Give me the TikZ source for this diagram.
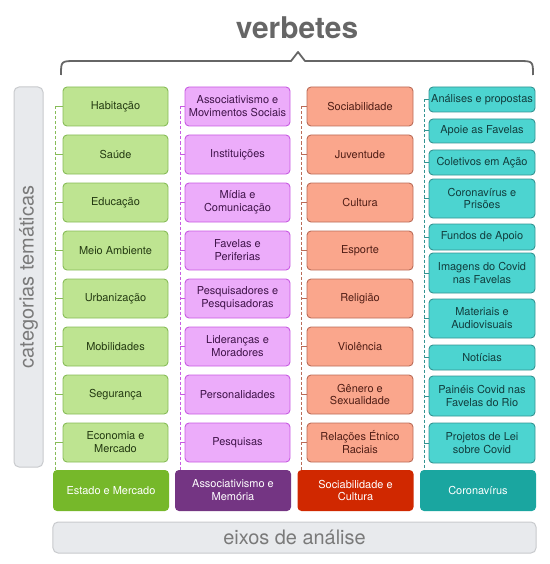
\documentclass[tikz,border=0pt]{standalone}
\usepackage{fontspec}
\setmainfont{TeX Gyre Heros}
\definecolor{verdeFundo}{RGB}{190,228,145}
\definecolor{verdeBorda}{RGB}{135,188,88}
\definecolor{verdeTexto}{RGB}{36,58,18}
\definecolor{verdeEixo}{RGB}{118,184,42}
\definecolor{roxoFundo}{RGB}{236,172,250}
\definecolor{roxoBorda}{RGB}{200,92,226}
\definecolor{roxoTexto}{RGB}{64,20,74}
\definecolor{roxoEixo}{RGB}{116,53,131}
\definecolor{salmaoFundo}{RGB}{250,166,140}
\definecolor{salmaoBorda}{RGB}{186,108,88}
\definecolor{salmaoTexto}{RGB}{80,30,22}
\definecolor{salmaoEixo}{RGB}{208,40,0}
\definecolor{tealFundo}{RGB}{76,212,208}
\definecolor{tealBorda}{RGB}{52,148,146}
\definecolor{tealTexto}{RGB}{18,62,62}
\definecolor{tealEixo}{RGB}{26,166,160}
\definecolor{cinzaFundo}{RGB}{232,234,237}
\definecolor{cinzaBorda}{RGB}{200,202,205}
\definecolor{cinzaTexto}{RGB}{122,122,122}
\definecolor{cinzaEscuro}{RGB}{102,102,102}
\tikzset{
  verbete/.style={draw, rounded corners=4bp, line width=0.9bp, minimum width=105bp, minimum height=39bp,
    align=center, inner sep=1bp, font=\fontsize{11}{13}\selectfont},
  eixo/.style={rounded corners=4bp, minimum width=116bp, minimum height=41bp, align=center,
    text=white, inner sep=1bp, font=\fontsize{11}{13}\selectfont},
  painel/.style={draw=cinzaBorda, fill=cinzaFundo, rounded corners=5bp, line width=1bp, text=cinzaTexto,
    inner sep=0pt, font=\fontsize{20}{24}\selectfont},
  ramo/.style={line width=1bp},
  espinha/.style={ramo, dash pattern=on 3bp off 2bp}
}
\begin{document}
\begin{tikzpicture}[x=1bp,y=-1bp]
\useasboundingbox (0,0) rectangle (550,564);
% titulo e chave
\node[font=\fontsize{30}{36}\selectfont\bfseries, text=cinzaEscuro] (titulo) at (297,28) {verbetes};
\draw[cinzaEscuro, line width=1.8bp, line join=round]
  (61,75) .. controls (61,61) .. (76,61) -- (291,61) -- (298,52) -- (305,61) -- (518,61) .. controls (533,61) .. (533,75);
% paineis cinza
\node[painel, rotate=90, minimum width=380bp, minimum height=29bp] (categorias) at (28.5,277) {categorias temáticas};
\node[painel, minimum width=483bp, minimum height=31bp] (eixos) at (294.5,537.5) {eixos de análise};
% eixos
\node[eixo, fill=verdeEixo] (estado) at (111,490.5) {Estado e Mercado};
\node[eixo, fill=roxoEixo] (associativismo) at (233,490.5) {Associativismo e\\Memória};
\node[eixo, fill=salmaoEixo] (sociabilidade) at (355.5,490.5) {Sociabilidade e\\Cultura};
\node[eixo, fill=tealEixo] (coronavirus) at (478,490.5) {Coronavírus};
% Estado e Mercado
\coordinate (eTopo) at (55,106.5);
\foreach \nome [count=\i] in {Habitação,Saúde,Educação,Meio Ambiente,Urbanização,Mobilidades,Segurança,Economia e\\Mercado} {
  \node[verbete, fill=verdeFundo, draw=verdeBorda, text=verdeTexto] (e\i) at (115.5,{58.5+48*\i}) {\nome};
  \draw[ramo, verdeBorda] (e\i.west) -- (e\i.west -| eTopo);}
\draw[espinha, verdeBorda] (eTopo) -- (eTopo |- estado.north);
% Associativismo e Memoria
\coordinate (aTopo) at (180,106.5);
\foreach \nome [count=\i] in {Associativismo e\\Movimentos Sociais,Instituições,Mídia e\\Comunicação,Favelas e\\Periferias,Pesquisadores e\\Pesquisadoras,Lideranças e\\Moradores,Personalidades,Pesquisas} {
  \node[verbete, fill=roxoFundo, draw=roxoBorda, text=roxoTexto] (a\i) at (237.5,{58.5+48*\i}) {\nome};
  \draw[ramo, roxoBorda] (a\i.west) -- (a\i.west -| aTopo);}
\draw[espinha, roxoBorda] (aTopo) -- (aTopo |- associativismo.north);
% Sociabilidade e Cultura
\coordinate (sTopo) at (301,106.5);
\foreach \nome [count=\i] in {Sociabilidade,Juventude,Cultura,Esporte,Religião,Violência,Gênero e\\Sexualidade,Relações Étnico\\Raciais} {
  \node[verbete, fill=salmaoFundo, draw=salmaoBorda, text=salmaoTexto, minimum width=106bp] (s\i) at (360,{58.5+48*\i}) {\nome};
  \draw[ramo, salmaoBorda] (s\i.west) -- (s\i.west -| sTopo);}
\draw[espinha, salmaoBorda] (sTopo) -- (sTopo |- sociabilidade.north);
% Coronavirus
\coordinate (cTopo) at (424,99.5);
\foreach \nome/\y/\h [count=\i] in {Análises e propostas/99.5/25,Apoie as Favelas/131/24,Coletivos em Ação/162.5/25,
    Coronavírus e\\Prisões/198.5/39,Fundos de Apoio/237/26,Imagens do Covid\\nas Favelas/273/40,
    Materiais e\\Audiovisuais/318.5/39,Notícias/357.5/25,Painéis Covid nas\\Favelas do Rio/396/40,Projetos de Lei\\sobre Covid/443/40} {
  \node[verbete, fill=tealFundo, draw=tealBorda, text=tealTexto, minimum width=106bp, minimum height=\h bp] (c\i) at (482,\y) {\nome};
  \draw[ramo, tealBorda] (c\i.west) -- (c\i.west -| cTopo);}
\draw[espinha, tealBorda] (cTopo) -- (cTopo |- coronavirus.north);
\end{tikzpicture}
\end{document}
